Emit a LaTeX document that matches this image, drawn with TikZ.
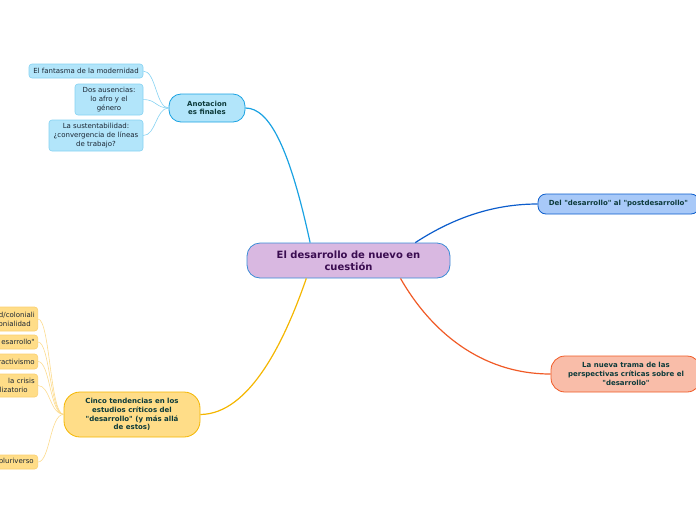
\documentclass[tikz,border=0pt]{standalone}
\usepackage{fontspec}
\setmainfont{DejaVu Sans}[Ligatures=TeXOff]
\definecolor{cfill}{HTML}{D9B8E1}
\definecolor{cborder}{HTML}{3A8CD6}
\definecolor{ctext}{HTML}{3A0C50}
\definecolor{afill}{HTML}{B2E5FA}
\definecolor{aborder}{HTML}{1AA2E2}
\definecolor{lborder}{HTML}{86D2F2}
\definecolor{dfill}{HTML}{A8C9F8}
\definecolor{dborder}{HTML}{0C5DCC}
\definecolor{nfill}{HTML}{F9BDA9}
\definecolor{nborder}{HTML}{F05A26}
\definecolor{yfill}{HTML}{FFDD88}
\definecolor{yborder}{HTML}{F4B600}
\definecolor{ylborder}{HTML}{FBD070}
\definecolor{ylline}{HTML}{FCDB8E}
\definecolor{ttext}{HTML}{0C3A3A}
\definecolor{ltext}{HTML}{1B2633}
\begin{document}
\begin{tikzpicture}[x=1pt,y=-1pt,
  every node/.style={font=\fontsize{7}{9}\selectfont, align=center, inner sep=2pt},
  centralbox/.style={draw=cborder, fill=cfill, line width=0.8pt, rounded corners=13pt,
    minimum width=203pt, minimum height=35pt, text=ctext, font=\fontsize{10}{12}\selectfont\bfseries},
  topicbox/.style={line width=0.8pt, text=ttext, font=\fontsize{7}{8.7}\selectfont\bfseries},
  bleaf/.style={draw=lborder, fill=afill, line width=0.6pt, rounded corners=3pt, text=ltext},
  yleaf/.style={draw=ylborder, fill=yfill, line width=0.6pt, rounded corners=3pt, text=ltext,
    anchor=east, text width=45pt, align=right, inner xsep=3pt},
  mainline/.style={line width=1.2pt},
  bline/.style={draw=lborder, line width=0.6pt},
  yline/.style={draw=ylline, line width=0.6pt}
]
\useasboundingbox (0,0) rectangle (696,520);

% central
\node[centralbox] (central) at (348.5,260.5) {El desarrollo de nuevo en\\cuestión};

% main topics
\node[topicbox, draw=aborder, fill=afill, rounded corners=12pt, minimum width=76pt, minimum height=28pt]
  (anot) at (207,108) {Anotacion\\es finales};
\node[topicbox, draw=dborder, fill=dfill, rounded corners=8pt, minimum width=161pt, minimum height=20pt]
  (del) at (618.5,204) {Del "desarrollo" al "postdesarrollo"};
\node[topicbox, draw=nborder, fill=nfill, rounded corners=14pt, minimum width=150pt, minimum height=36pt]
  (nueva) at (626,374) {La nueva trama de las\\perspectivas críticas sobre el\\"desarrollo"};
\node[topicbox, draw=yborder, fill=yfill, rounded corners=16pt, minimum width=136pt, minimum height=45pt]
  (cinco) at (132,414.5) {Cinco tendencias en los\\estudios críticos del\\"desarrollo" (y más allá\\de estos)};

% blue leaves
\node[bleaf, minimum width=114pt, minimum height=14pt] (b1) at (86,71) {El fantasma de la modernidad};
\node[bleaf, minimum width=68pt, minimum height=31pt] (b2) at (109,99.5) {Dos ausencias:\\lo afro y el\\género};
\node[bleaf, minimum width=94pt, minimum height=31pt] (b3) at (96,135.5) {La sustentabilidad:\\¿convergencia de líneas\\de trabajo?};

% yellow leaves (cut off at the left edge)
\node[yleaf, minimum height=24pt] (y1) at (38,319) {d/coloniali\\onialidad\hspace*{4pt}};
\node[yleaf, minimum height=14pt] (y2) at (38,342) {esarrollo"};
\node[yleaf, minimum height=15pt] (y3) at (38,361.5) {ractivismo};
\node[yleaf, minimum height=23pt] (y4) at (38,385.5) {la crisis\hspace*{6pt}\\lizatorio\hspace*{7pt}};
\node[yleaf, minimum height=14pt] (y5) at (38,462) {pluriverso\hspace*{1pt}};

% main connectors
\draw[mainline, draw=aborder] (central.155.6) .. controls (290,150) and (270,108) .. (anot.east);
\draw[mainline, draw=dborder] (central.15.6) .. controls (450,220) and (490,204) .. (del.west);
\draw[mainline, draw=nborder] (central.-19.5) .. controls (430,330) and (480,374) .. (nueva.west);
\draw[mainline, draw=yborder] (central.-157.1) .. controls (285,340) and (250,414) .. (cinco.east);

% blue leaf connectors
\draw[bline] (anot.west) .. controls (156,108) and (156,71) .. (b1.east);
\draw[bline] (anot.west) .. controls (156,108) and (156,99.5) .. (b2.east);
\draw[bline] (anot.west) .. controls (156,108) and (156,135.5) .. (b3.east);

% yellow leaf connectors
\draw[yline] (cinco.west) .. controls (50,414) and (50,319) .. (y1.east);
\draw[yline] (cinco.west) .. controls (50,414) and (50,342) .. (y2.east);
\draw[yline] (cinco.west) .. controls (50,414) and (50,361.5) .. (y3.east);
\draw[yline] (cinco.west) .. controls (50,414) and (50,385.5) .. (y4.east);
\draw[yline] (cinco.west) .. controls (50,414) and (50,462) .. (y5.east);
\end{tikzpicture}
\end{document}
